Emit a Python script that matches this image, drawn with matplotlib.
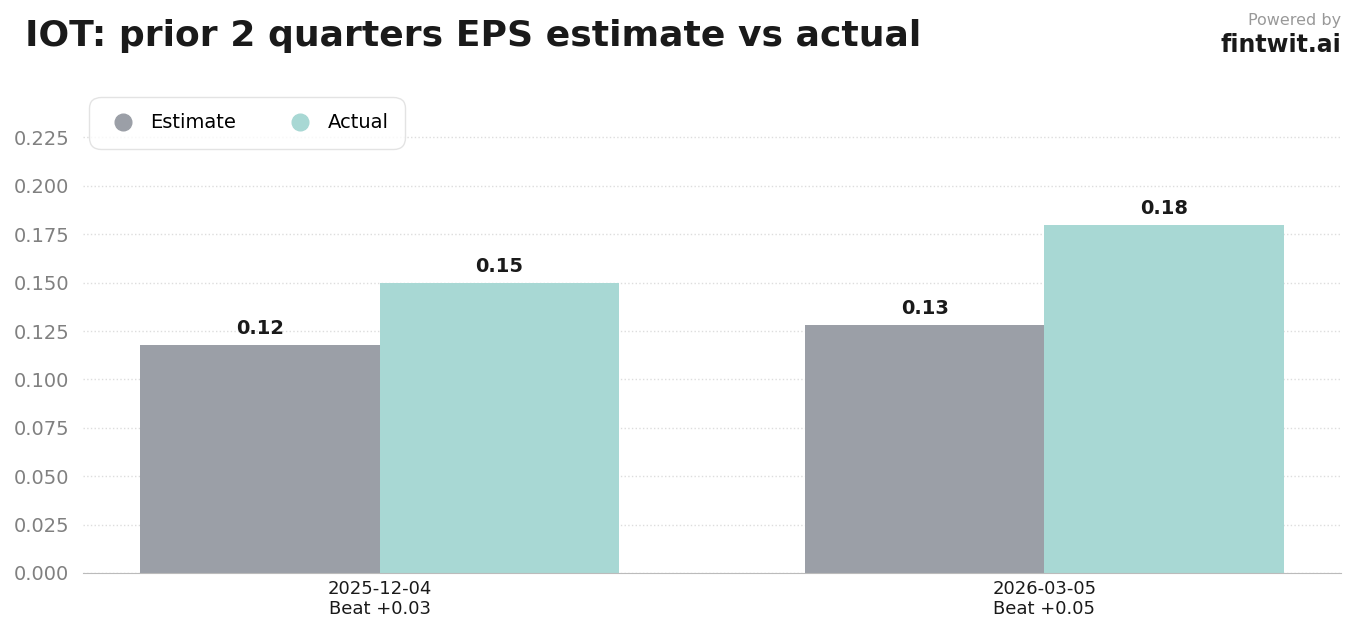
import numpy as np
import matplotlib.pyplot as plt
from matplotlib.lines import Line2D

# data
dates = ['2025-12-04', '2026-03-05']
beats = ['Beat +0.03', 'Beat +0.05']
estimate = [0.118, 0.128]
actual = [0.150, 0.180]

est_color = '#9b9fa7'
act_color = '#a8d8d4'

fig = plt.figure(figsize=(13.54, 6.31), dpi=100)
ax = fig.add_axes([83/1354, 58/631, (1341-83)/1354, (573-91)/631])

x = np.arange(len(dates))
w = 0.36
b1 = ax.bar(x - w/2, estimate, w, color=est_color, zorder=2)
b2 = ax.bar(x + w/2, actual, w, color=act_color, zorder=2)

# value labels
for bars, vals in ((b1, estimate), (b2, actual)):
    for r, v in zip(bars, vals):
        ax.annotate(f'{v:.2f}', (r.get_x() + r.get_width()/2, v),
                    xytext=(0, 5), textcoords='offset points',
                    ha='center', va='bottom', fontsize=14,
                    fontweight='bold', color='#1a1a1a')

ax.set_ylim(0, 0.249)
ax.set_yticks(np.arange(0, 0.226, 0.025))
ax.set_xticks(x)
ax.set_xticklabels([f'{d}\n{b}' for d, b in zip(dates, beats)],
                   fontsize=13, color='#1a1a1a', linespacing=1.15)
ax.tick_params(axis='y', labelsize=14, labelcolor='#808080', length=0, pad=10)
ax.tick_params(axis='x', length=0, pad=5)
ax.yaxis.set_major_formatter(plt.FuncFormatter(lambda v, p: f'{v:.3f}'))

ax.grid(axis='y', linestyle=':', color='#dddddd', linewidth=1, zorder=0)
for s in ['top', 'right', 'left']:
    ax.spines[s].set_visible(False)
ax.spines['bottom'].set_color('#bbbbbb')

# legend
handles = [Line2D([], [], marker='o', linestyle='', markersize=12, color=est_color),
           Line2D([], [], marker='o', linestyle='', markersize=12, color=act_color)]
leg = ax.legend(handles, ['Estimate', 'Actual'], loc='upper left', ncol=2,
                fontsize=14, frameon=True, borderpad=0.85, columnspacing=2.4,
                handletextpad=0.5, handlelength=1.8, borderaxespad=0.3,
                fancybox=True)
leg.get_frame().set_edgecolor('#dddddd')
leg.get_frame().set_linewidth(1)
leg.get_frame().set_boxstyle('round', pad=0.0, rounding_size=0.6)

# title and branding
fig.text(25/1354, 1 - 36/631, 'IOT: prior 2 quarters EPS estimate vs actual',
         fontsize=26, fontweight='bold', color='#1a1a1a', va='center', ha='left')
fig.text(1341/1354, 1 - 20/631, 'Powered by', fontsize=11.5, color='#999999',
         ha='right', va='center')
fig.text(1341/1354, 1 - 45/631, 'fintwit.ai', fontsize=17, fontweight='bold',
         color='#1a1a1a', ha='right', va='center')

fig.savefig('out.png', dpi=100)
